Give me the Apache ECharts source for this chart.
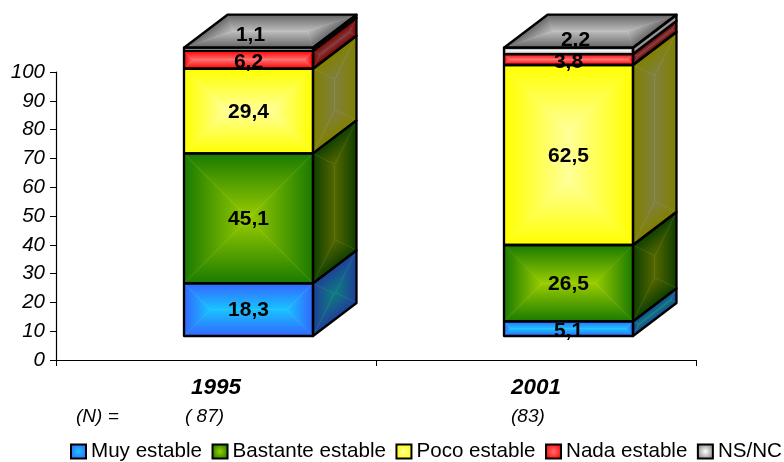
<!DOCTYPE html>
<html><head><meta charset="utf-8">
<style>html,body{margin:0;padding:0;background:#fff}#c{width:784px;height:462px}</style>
<script src="https://cdn.jsdelivr.net/npm/echarts@6/dist/echarts.min.js"></script>
</head><body><div id="c"></div>
<script>
const categories = ['1995', '2001'];
const seriesNames = ['Muy estable', 'Bastante estable', 'Poco estable', 'Nada estable', 'NS/NC'];
const muyEstable = [18.3, 5.1];
const bastanteEstable = [45.1, 26.5];
const pocoEstable = [29.4, 62.5];
const nadaEstable = [6.2, 3.8];
const nsNc = [1.1, 2.2];
const sampleSizes = ['( 87)', '(83)'];
const allValues = [muyEstable, bastanteEstable, pocoEstable, nadaEstable, nsNc];

// edge colour, centre colour of every face
const frontColors = [['#3366ff', '#19c3ff'], ['#1a7a00', '#99cc00'], ['#ffff00', '#ffff99'], ['#ff0000', '#ff6e6e'], ['#808080', '#ffffff']];
const sideColors = [['#1f3f99', '#0e7a80'], ['#0e3f00', '#556600'], ['#808000', '#808040'], ['#800000', '#803838'], ['#555555', '#999999']];
const topColors = ['#666666', '#bdbdbd'];

const DX = 43.5, DY = -33;       // depth of the box
const SHIFT_X = 32.5, SHIFT_Y = -24, BAR_W = 129;
const FONT = '"Liberation Sans", Arial, sans-serif';
const topLabelNudge = [[2, -15], [7, -12]];
const lowLabelNudge = 1.5;

function piece(poly, a, b, c, edge, centre) {
  const ex = b[0] - a[0], ey = b[1] - a[1], t = ((c[0] - a[0]) * ex + (c[1] - a[1]) * ey) / (ex * ex + ey * ey);
  const fx = a[0] + t * ex, fy = a[1] + t * ey;
  const fill = { type: 'linear', global: true, x: fx, y: fy, x2: c[0], y2: c[1],
    colorStops: [{ offset: 0, color: edge }, { offset: 1, color: centre }] };
  return { type: 'polygon', shape: { points: poly }, style: { fill, stroke: fill, lineWidth: 0.5 }, silent: true };
}
function len(p, q) { return Math.hypot(q[0] - p[0], q[1] - p[1]); }
function face(pts, colors) {
  // rotate so that p0->p1 is the long side; the gradient runs from the edges to a mitred ridge
  let p = pts;
  if (len(p[0], p[3]) > len(p[0], p[1])) p = [p[1], p[2], p[3], p[0]];
  const e1 = [p[1][0] - p[0][0], p[1][1] - p[0][1]], e2 = [p[3][0] - p[0][0], p[3][1] - p[0][1]];
  const r = (Math.hypot(e2[0], e2[1]) / 2) / Math.hypot(e1[0], e1[1]);
  const at = (u, v) => [p[0][0] + u * e1[0] + v * e2[0], p[0][1] + u * e1[1] + v * e2[1]];
  const R1 = at(r, 0.5), R2 = at(1 - r, 0.5);
  const [E, C] = colors;
  const out = [
    piece([p[0], p[1], R2, R1], p[0], p[1], R1, E, C),
    piece([p[1], p[2], R2], p[1], p[2], R2, E, C),
    piece([p[2], p[3], R1, R2], p[2], p[3], R1, E, C),
    piece([p[3], p[0], R1], p[3], p[0], R1, E, C)
  ];
  out.push({ type: 'polygon', shape: { points: pts }, z2: 5, style: { fill: 'none', stroke: '#000', lineWidth: 2.3, lineJoin: 'round' }, silent: true });
  return out;
}
function makeRender(si) {
  return function (params, api) {
    const cat = api.value(0), from = api.value(1), to = api.value(2), val = api.value(3);
    const base = api.coord([cat, from]), tip = api.coord([cat, to]);
    const x0 = base[0] + SHIFT_X - BAR_W / 2, x1 = x0 + BAR_W;
    const y0 = base[1] + SHIFT_Y, y1 = tip[1] + SHIFT_Y;
    let ch = [];
    ch = ch.concat(face([[x1, y1], [x1 + DX, y1 + DY], [x1 + DX, y0 + DY], [x1, y0]], sideColors[si]));
    if (si === allValues.length - 1) {
      ch = ch.concat(face([[x0, y1], [x0 + DX, y1 + DY], [x1 + DX, y1 + DY], [x1, y1]], topColors));
    }
    ch = ch.concat(face([[x0, y1], [x1, y1], [x1, y0], [x0, y0]], frontColors[si]));
    const n = si === allValues.length - 1 ? topLabelNudge[cat] : [0, to - from < 8 ? lowLabelNudge : 0];
    ch.push({ type: 'text', z2: 50, silent: true, style: {
      x: (x0 + x1) / 2 + n[0], y: (y0 + y1) / 2 + n[1] + 1,
      text: String(val).replace('.', ','), align: 'center', verticalAlign: 'middle',
      font: 'bold 21px ' + FONT, fill: '#000' } });
    return { type: 'group', children: ch };
  };
}
const running = categories.map(() => 0);
const series = seriesNames.map((name, si) => {
  const data = categories.map((c, i) => {
    const v = allValues[si][i], row = [i, running[i], running[i] + v, v];
    running[i] += v;
    return row;
  });
  return {
    name, type: 'custom', data, renderItem: makeRender(si), clip: false,
    encode: { x: 0, y: [1, 2] },
    itemStyle: { color: { type: 'radial', x: 0.5, y: 0.5, r: 0.6,
      colorStops: [{ offset: 0, color: frontColors[si][1] }, { offset: 1, color: frontColors[si][0] }] },
      borderColor: '#000', borderWidth: 2 }
  };
});
const chart = echarts.init(document.getElementById('c'), null, { renderer: 'canvas' });
chart.setOption({
  animation: false,
  backgroundColor: '#fff',
  grid: { left: 56, right: 88, top: 72, bottom: 102, containLabel: false },
  xAxis: { type: 'category', data: categories, boundaryGap: true,
    axisLine: { lineStyle: { color: '#000', width: 1.2 } },
    axisTick: { show: true, length: 6, alignWithLabel: false, lineStyle: { color: '#000', width: 1 } },
    axisLabel: { margin: 16, color: '#000', fontFamily: FONT, fontSize: 22.5, fontWeight: 'bold', fontStyle: 'italic' } },
  yAxis: { type: 'value', min: 0, max: 100, interval: 10,
    axisLine: { show: true, lineStyle: { color: '#000', width: 1.2 } },
    axisTick: { show: true, length: 6, lineStyle: { color: '#000', width: 1 } },
    splitLine: { show: false },
    axisLabel: { margin: 11, padding: [2, 0, 0, 0], color: '#000', fontFamily: FONT, fontSize: 20.5, fontStyle: 'italic' } },
  legend: { left: 70, top: 441, itemWidth: 15, itemHeight: 14, itemGap: 9.5, padding: 0, width: 1000,
    icon: 'rect', itemStyle: { borderColor: '#000', borderWidth: 2 },
    textStyle: { color: '#000', fontFamily: FONT, fontSize: 20.6 }, data: seriesNames },
  graphic: [
    { type: 'text', left: 76, top: 407, style: { text: '(N) =', font: 'italic 19px ' + FONT, fill: '#000' } },
    { type: 'text', left: 185, top: 407, style: { text: sampleSizes[0], font: 'italic 19px ' + FONT, fill: '#000' } },
    { type: 'text', left: 511, top: 407, style: { text: sampleSizes[1], font: 'italic 19px ' + FONT, fill: '#000' } }
  ],
  series
});
</script></body></html>
